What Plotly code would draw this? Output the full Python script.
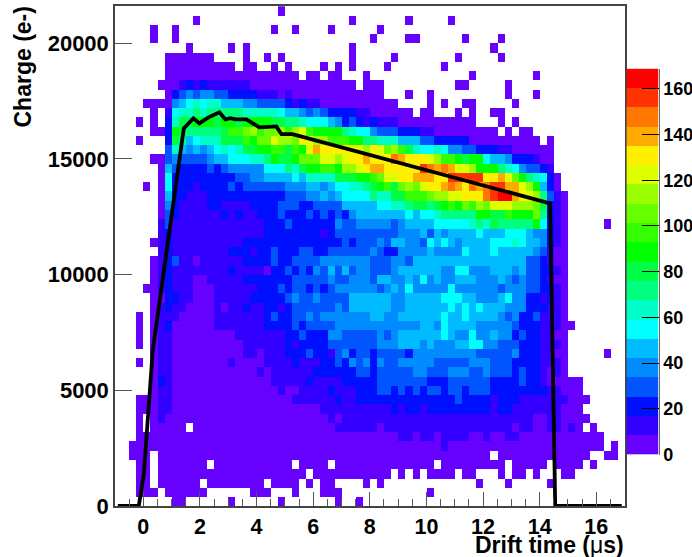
import plotly.graph_objects as go

# Each row is one charge bin (top = highest charge), each char one 0.25 us drift bin.
# Char = colour level of the histogram (0-9, a-j), '.' = empty bin. Groups of 8 bins.
level_rows = """
........ ........ .......0
........ ...0.... ........ ........ .0...... .0.....0
.....0.. 0....... ......0. .0....0. .....0..
.....0.. 0....... ........ ........ ....0... .00..... .0....0.
........ ..0..... 0.0..... ........ .0...... ........ .....0..
.......0 000000.. ..0..0.0 ........ .0.....0 ........ 0.....0.
.......0 00000000 0.00..0. 0....0.0 .0....0. ......0.
.......0 00000000 00000000 00.00.00 ...0.... ........ ..0..... ...0....
......00 01212111 11100000 00000000 00.000.. ........ 00.....0
.......0 23434433 22221110 10000000 000000.. .0..0... .......0 ...0....
....0000 45676775 55443333 21211000 00000000 ....0.0. .00..... 0.......
.....0.1 67787888 88777776 55434322 22110000 00.00... 0.0..00.
...0.0.2 799aaa9a a9aaaa99 88766654 23212111 00000000 000...0. 0.......
.....002 a9888889 bbcdbccd bdebaaaa 87664333 22211000 000000.0 .00.....
...0...2 98567779 99bacced dcfeddbb baa88777 55533222 22000000 0000.0..
.......3 75454567 6799aabb 9baegfff feedfecd b9766764 43322211 000000..
.....003 43333455 666778a9 9accceed effgfffh gfffedbb a9aa6554 222100..
......05 32222323 44444666 879aabba ddefggff fffihghg eedaaa87 643321..
......06 22222222 23344555 56577779 99aabcee ffgggffi iiiiffge ca87620.
....0.06 22212222 32333333 44455456 67789ab9 cdceffgh gfhghiig geda520.
......05 22111222 22222222 33344545 66668779 9bbbcdde efffhijj gfed8310
......04 21111221 11122223 33223333 55555667 789989ab acbdceee dddc9210
......03 21111112 12112223 22232323 24555555 56566788 888aa99b aaac8210
......13 11111111 11111222 32222224 33444443 45555666 66787988 888a6210 .....0..
......12 11111111 11111222 22222123 33333333 44453545 55565556 66544210
.....012 11111111 11222222 22222222 32333435 54436565 45555666 76554210
......12 11111111 22212232 22332233 33334322 44445444 46555655 55543100
.....012 31101111 11222232 23333444 44443334 43555555 55555555 55332100
.....012 11111111 21111022 32324353 53443334 55555544 66444555 45332210
.....012 11100111 11222222 23333343 34443554 45464544 55544454 34332100
....0012 11100011 11112223 23323234 44444345 46444446 44444434 44332210
.....002 21100011 11122222 34334333 35555554 45555566 65544456 44221210
.....012 11000010 11211221 23333334 35555554 45555556 56565554 44222110
...0.011 10000011 11111232 23343444 44445544 55555565 56555543 42231110
...0.012 00000011 11111222 23233334 44444444 44455465 55544444 32221110 0.......
...0.011 00000000 01111111 22322244 33333434 55555565 44644544 23221100
...0.011 00000000 00111111 21222233 33333444 55545444 55664433 32221110
.....011 00000000 00110111 22232213 42332333 32444444 44433333 42221100 .....0..
...0.011 00000000 10000111 12111223 24342433 44444333 33444333 22221110
.....011 00000000 00001011 11112222 22332333 33443334 44334333 23221010
.....021 00000000 00000011 11121111 22222333 33332223 33333222 23221000 00......
.....011 00000000 00000001 00111121 11222332 32323323 32333222 22222110 00......
...00011 00000000 00000000 01111112 11222222 22222222 32222122 21111111 000.....
...00011 00000000 00000000 00000111 11111112 12212222 22222122 11111110 00......
...0.010 00000000 00000000 00000010 11111111 11111111 11111111 11100110 000.....
...0.000 00.00000 00000000 00000001 11111011 11111111 11111111 01100110 10.0....
...00000 00000000 00000000 00000000 00000000 11011011 11001001 10000000 00000...
..000000 00000000 00000000 00000000 00000000 00000010 00000000 00000000 00000.0.
..000.00 00000000 00000000 00000000 00000000 00000000 00000.00 00000000 000..00.
...00.00 00000.00 00000000 0.0000.0 00000000 00000.00 0000000. 00000.00 00.0....
...00.00 00000000 00000000 000.0000 0000000. 0.0.0000 .00...0. 00.0...0 0.......
...00.00 0000.000 00000.00 00.0.00. ...0.0.. ........ ...0...0 .....0..
...000.0 00000... ...000.. .0...000 ........ ....0...
........ 00...... 0......0 .......0 ..0.....
""".strip().split("\n")

level_chars = "0123456789abcdefghij"
level_colors = ["#6600ff", "#3300ff", "#0010ff", "#0055ff", "#008cff", "#00bbff", "#00ffff",
                "#00ffc8", "#00ff80", "#00ff44", "#00ff00", "#33ff00", "#66ff00", "#99ff00",
                "#ddff00", "#fff000", "#ffaa00", "#ff7700", "#ff3300", "#ff0000"]
z_max = 168.8
z_step = z_max / 20

profile_time = [-0.9, -0.16, 0.02, 0.335, 1.43, 1.77, 1.98, 2.3, 2.69, 2.9, 3.08, 3.25, 3.64,
                4.1, 4.7, 4.88, 5.27, 14.37, 14.55, 16.9]
profile_charge = [0, 0, 1410, 6730, 16320, 16760, 16540, 16800, 17020, 16710, 16760, 16710, 16710,
                  16370, 16410, 16070, 16070, 13080, 0, 0]


def decode(row):
    cells = []
    for g in row.split(" "):
        cells.extend(g[:8].ljust(8, "."))
    cells = cells + ["."] * (72 - len(cells))
    return [None if ch == "." else (level_chars.index(ch) + 0.5) * z_step for ch in cells]


z = [decode(r) for r in reversed(level_rows)]

scale = []
for i, col in enumerate(level_colors):
    scale.append([i / 20, col])
    scale.append([(i + 1) / 20, col])

L, R, T, B = 114.5, 624.5, 5.7, 505.7
W, H = 692, 557
pw, ph = R - L, B - T
box_w = W - L
BAR_L, BAR_R, BAR_T, BAR_B = 626.3, 658.7, 68.3, 454.3
FONT = "Liberation Sans"
bold = dict(family=FONT, color="#000", weight="bold")

fig = go.Figure()
fig.add_trace(go.Heatmap(
    z=z, x0=-0.875, dx=0.25, y0=200, dy=400, xaxis="x", yaxis="y",
    colorscale=scale, zmin=0, zmax=z_max, hoverongaps=False, showscale=False,
))
fig.add_trace(go.Heatmap(
    z=[[(i + 0.5) * z_step] for i in range(20)], x=[0], y0=z_step / 2, dy=z_step, xaxis="x2", yaxis="y2",
    colorscale=scale, zmin=0, zmax=z_max, showscale=False,
))
fig.add_trace(go.Scatter(x=profile_time, y=profile_charge, mode="lines",
                         line=dict(color="#000", width=3.8), cliponaxis=False, showlegend=False))

fig.update_layout(
    width=W, height=H, margin=dict(l=L, r=0, t=T, b=H - B, pad=0),
    paper_bgcolor="#fff", plot_bgcolor="#fff", showlegend=False,
    xaxis=dict(domain=[0, pw / box_w], range=[-1, 17], tick0=0, dtick=2, ticks="inside", ticklen=14, tickwidth=1,
               tickcolor="#555", showgrid=False, zeroline=False, showline=True, linecolor="#444", linewidth=1.5,
               mirror=True,
               minor=dict(dtick=0.5, tick0=0, ticks="inside", ticklen=7, tickwidth=1, tickcolor="#555", showgrid=False),
               tickfont=dict(size=21.5, **bold)),
    yaxis=dict(range=[0, 21612], tick0=0, dtick=5000, ticks="inside", ticklen=17, tickwidth=1, tickcolor="#555",
               tickformat="d", showgrid=False, zeroline=False, showline=True, linecolor="#444", linewidth=1.5,
               mirror=True, tickfont=dict(size=22, **bold)),
    xaxis2=dict(domain=[(BAR_L - L) / box_w, (BAR_R - L) / box_w], anchor="y2", range=[-0.5, 0.5],
                showticklabels=False, ticks="", showgrid=False, zeroline=False, showline=False),
    yaxis2=dict(domain=[(B - BAR_B) / ph, (B - BAR_T) / ph], anchor="x2", side="right", range=[0, z_max],
                tick0=0, dtick=20, ticks="inside", ticklen=17, tickwidth=1, tickcolor="#000",
                showgrid=False, zeroline=False, showline=True, linecolor="#666", linewidth=1,
                tickfont=dict(size=18, **bold)),
    annotations=[
        dict(text='Drift time (<span style="font-weight:normal">μ</span>s)', xref="x domain", yref="y domain",
             x=1, y=0, xanchor="right", yanchor="top", xshift=1,
             yshift=-24, showarrow=False, font=dict(size=23, **bold)),
        dict(text="Charge (e-)", xref="x domain", yref="y domain", x=0, y=1, xanchor="right", yanchor="top",
             xshift=-78, yshift=1, textangle=-90, showarrow=False, font=dict(size=23, **bold)),
    ],
)
fig.write_html("out.html", config=dict(displayModeBar=False),
               post_script="document.body.style.margin='0';document.body.style.overflow='hidden';")
